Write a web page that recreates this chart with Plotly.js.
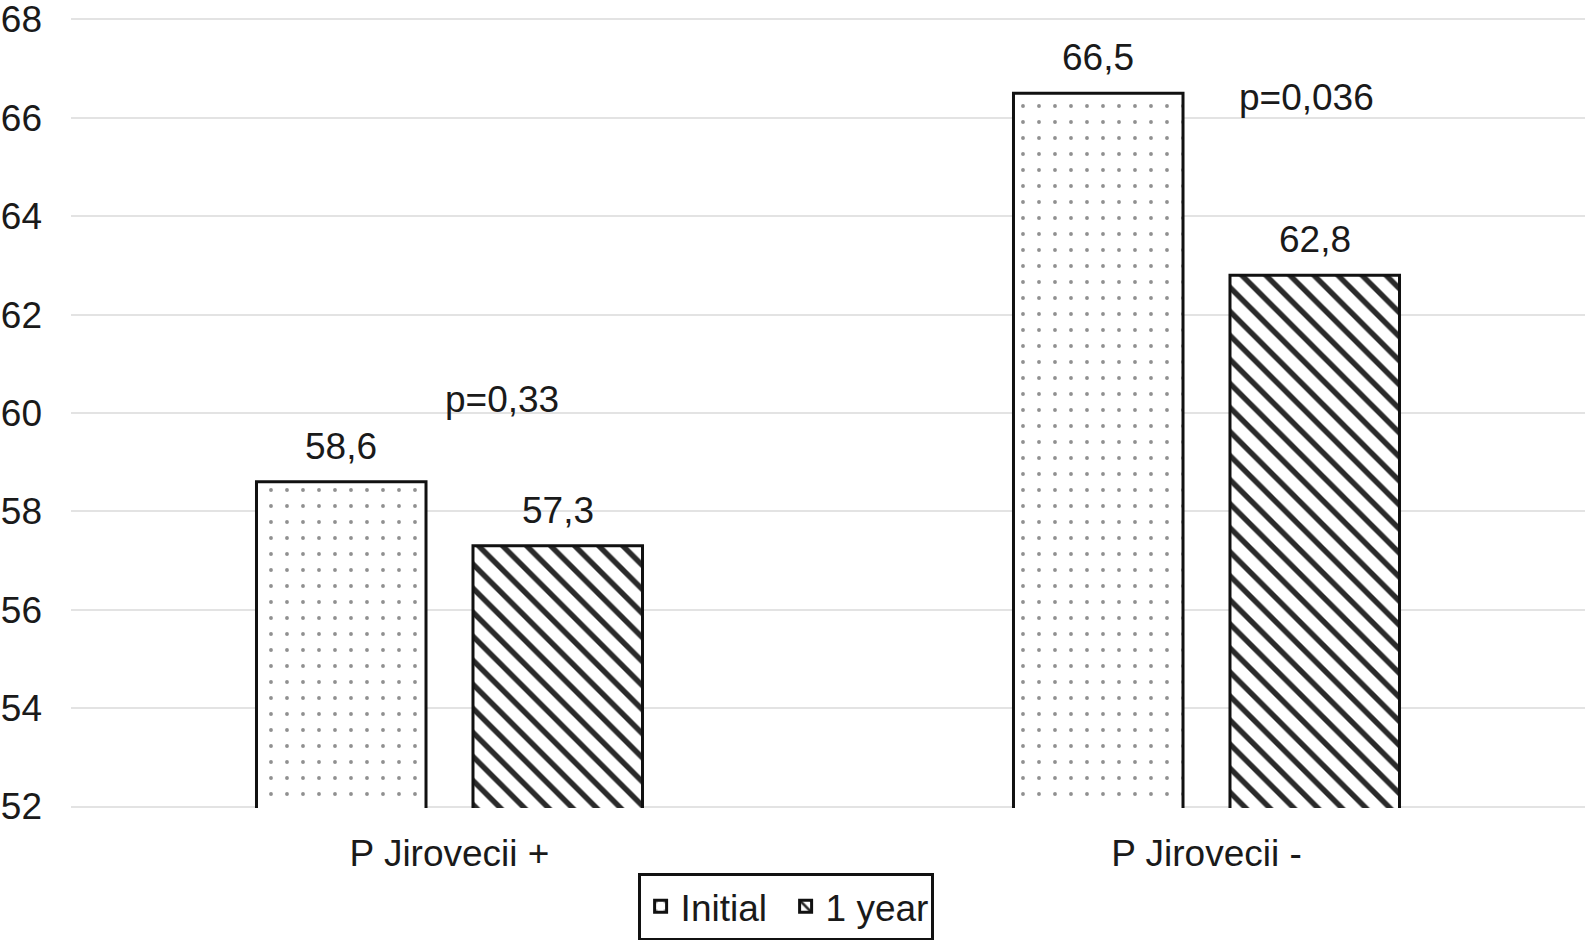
<!DOCTYPE html>
<html>
<head>
<meta charset="utf-8">
<script src="https://cdn.plot.ly/plotly-3.0.1.min.js"></script>
<style>html,body{margin:0;padding:0;background:#fff;overflow:hidden;}#chart{width:1585px;height:940px;}</style>
</head>
<body>
<div id="chart"></div>
<script>
const categories = ["P Jirovecii +", "P Jirovecii -"];
const seriesNames = ["Initial", "1 year"];
const initialValues = [58.6, 66.5];
const yearValues = [57.3, 62.8];
const pLabels = ["p=0,33", "p=0,036"];
const pLabelX = [0.07, 1.132];
const pLabelY = [60.27, 66.41];
const yTicks = [52, 54, 56, 58, 60, 62, 64, 66, 68];

const fontFamily = '"Liberation Sans", Arial, sans-serif';
const txtColor = '#1a1a1a';
const fs = 37;

const traces = [
  {
    type: 'bar', name: seriesNames[0], x: [0, 1], y: initialValues,
    marker: {
      color: '#ffffff',
      line: {color: '#111', width: 3},
      pattern: {shape: '.', fgcolor: '#909090', bgcolor: '#ffffff', size: 16, solidity: 0.045, fillmode: 'replace'}
    },
    hoverinfo: 'skip'
  },
  {
    type: 'bar', name: seriesNames[1], x: [0, 1], y: yearValues,
    marker: {
      color: '#ffffff',
      line: {color: '#111', width: 3},
      pattern: {shape: '\\', fgcolor: '#2a2a2a', bgcolor: '#ffffff', size: 17, solidity: 0.32, fillmode: 'replace'}
    },
    hoverinfo: 'skip'
  }
];

const slot = 0.286;
const annotations = [];
const valFont = {size: fs, color: txtColor, family: fontFamily};
initialValues.forEach((v, i) => {
  annotations.push({x: i - slot/2, y: v, xref: 'x', yref: 'y', text: String(v).replace('.', ','), showarrow: false, yanchor: 'bottom', yshift: 13, font: valFont});
});
yearValues.forEach((v, i) => {
  annotations.push({x: i + slot/2, y: v, xref: 'x', yref: 'y', text: String(v).replace('.', ','), showarrow: false, yanchor: 'bottom', yshift: 13, font: valFont});
});
pLabels.forEach((t, i) => {
  annotations.push({x: pLabelX[i], y: pLabelY[i], xref: 'x', yref: 'y', text: t, showarrow: false, yanchor: 'middle', font: valFont});
});

const layout = {
  width: 1585, height: 940,
  margin: {l: 71, r: 0, t: 18, b: 132, autoexpand: false},
  paper_bgcolor: '#fff', plot_bgcolor: '#fff',
  separators: ', ',
  barmode: 'group', bargap: 0.428, bargroupgap: 0.217,
  font: {family: fontFamily, color: txtColor, size: fs},
  showlegend: true,
  legend: {
    orientation: 'h', x: 0.472, xanchor: 'center', y: -0.082, yanchor: 'top',
    bordercolor: '#111', borderwidth: 3, bgcolor: '#fff',
    font: {size: fs, color: txtColor, family: fontFamily},
    itemwidth: 30, tracegroupgap: 0, entrywidth: 100, entrywidthmode: 'pixels'
  },
  xaxis: {
    range: [-0.5, 1.5], tickvals: [0, 1], ticktext: categories,
    showgrid: false, zeroline: false, showline: false, ticks: '', automargin: false,
    tickfont: {size: fs, color: txtColor, family: fontFamily}, ticklabelstandoff: 20
  },
  yaxis: {
    range: [51.97, 68.03], tickvals: yTicks, ticktext: yTicks.map(String),
    showgrid: true, gridcolor: '#e3e3e3', gridwidth: 2, zeroline: false, showline: false, ticks: '', automargin: false,
    ticklabeloverflow: 'allow',
    tickfont: {size: fs, color: txtColor, family: fontFamily}, ticklabelstandoff: 28
  },
  annotations: annotations
};

Plotly.newPlot('chart', traces, layout, {displayModeBar: false, staticPlot: true});
</script>
</body>
</html>
